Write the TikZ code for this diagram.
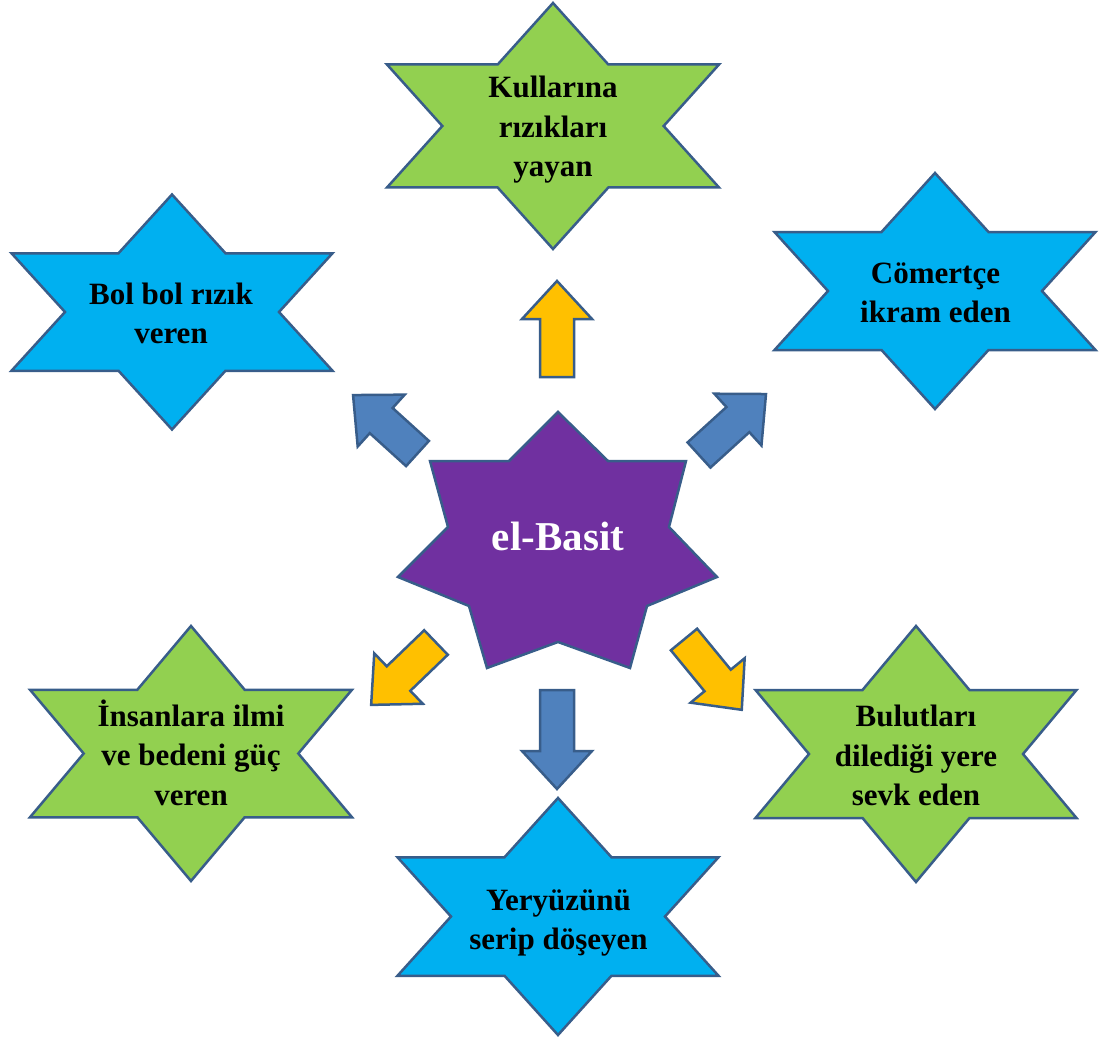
\documentclass[tikz,border=0pt]{standalone}
\usepackage{fontspec}
\setmainfont{Liberation Serif}
\definecolor{sgreen}{HTML}{92D050}
\definecolor{sblue}{HTML}{00B0F0}
\definecolor{spurple}{HTML}{7030A0}
\definecolor{ablue}{HTML}{4F81BD}
\definecolor{ayellow}{HTML}{FFC000}
\definecolor{edgeblue}{HTML}{385D8A}
\tikzset{
  outl/.style={draw=edgeblue, line width=2.5pt, line join=miter},
  lbl/.style={align=center, inner sep=0pt, text=black,
    font=\bfseries\fontsize{31}{39.5}\selectfont},
  centerlbl/.style={align=center, inner sep=0pt, text=white,
    font=\bfseries\fontsize{41}{48}\selectfont}
}
\newcommand\hexstar[5]{%
  \begin{scope}[shift={(#1,#2)}]
    \filldraw[outl, fill=#5] (0,-#4) -- ({#3/3},{-#4/2}) -- (#3,{-#4/2}) -- ({2*#3/3},0)
      -- (#3,{#4/2}) -- ({#3/3},{#4/2}) -- (0,#4) -- ({-#3/3},{#4/2}) -- (-#3,{#4/2})
      -- ({-2*#3/3},0) -- (-#3,{-#4/2}) -- ({-#3/3},{-#4/2}) -- cycle;
  \end{scope}}
\newcommand\blockarr[5]{%
  \begin{scope}[shift={(#1,#2)}, rotate=#3]
    \filldraw[outl, fill=#5] (0,-17) -- ({#4-38},-17) -- ({#4-38},-35) -- (#4,0)
      -- ({#4-38},35) -- ({#4-38},17) -- (0,17) -- cycle;
  \end{scope}}
\begin{document}
\begin{tikzpicture}[x=1pt, y=-1pt]
  \useasboundingbox (0,0) rectangle (1112,1038);
  % outer stars
  \hexstar{553}{126}{166}{123}{sgreen}
  \hexstar{172}{312}{160.5}{117.5}{sblue}
  \hexstar{935}{291}{160.5}{118}{sblue}
  \hexstar{191}{753.5}{161}{127.5}{sgreen}
  \hexstar{916}{754}{160.5}{128}{sgreen}
  \hexstar{558}{916.5}{160.5}{118.5}{sblue}
  % center seven-point star
  \filldraw[outl, fill=spurple] (558,412) -- (608,461) -- (686,461) -- (669,527)
    -- (717,577) -- (647,606) -- (630,668) -- (558,642) -- (487,668) -- (469,606)
    -- (398,577) -- (448,527) -- (430,461) -- (509,461) -- cycle;
  % block arrows
  \blockarr{557}{377}{90}{96}{ayellow}
  \blockarr{557}{690}{-90}{99}{ablue}
  \blockarr{417.5}{453.5}{137.8}{87}{ablue}
  \blockarr{699}{455}{42.3}{90.6}{ablue}
  \blockarr{436}{642.5}{223.9}{90}{ayellow}
  \blockarr{684}{639.5}{-50.6}{91}{ayellow}
  % labels
  \node[centerlbl] (basit) at (558,536.5) {el-Basit};
  \node[lbl] (kullar) at (553,130) {Kullarına\\rızıkları\\yayan};
  \node[lbl] (bol) at (171,313.5) {Bol bol rızık\\veren};
  \node[lbl] (comert) at (935.5,293) {Cömertçe\\ikram eden};
  \node[lbl] (insan) at (191,752.5) {İnsanlara ilmi\\ve bedeni güç\\veren};
  \node[lbl] (bulut) at (916,755.5) {Bulutları\\dilediği yere\\sevk eden};
  \node[lbl] (yer) at (558.5,923) {Yeryüzünü\\serip döşeyen};
\end{tikzpicture}
\end{document}
